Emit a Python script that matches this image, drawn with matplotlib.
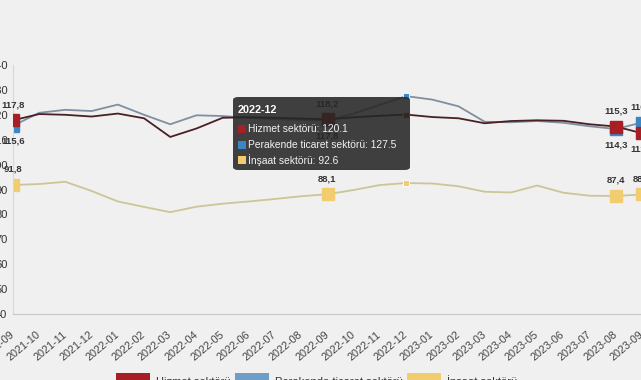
import matplotlib.pyplot as plt
from matplotlib.patches import FancyBboxPatch, Rectangle, Patch

# data
months = ["2021-09", "2021-10", "2021-11", "2021-12", "2022-01", "2022-02", "2022-03",
          "2022-04", "2022-05", "2022-06", "2022-07", "2022-08", "2022-09", "2022-10",
          "2022-11", "2022-12", "2023-01", "2023-02", "2023-03", "2023-04", "2023-05",
          "2023-06", "2023-07", "2023-08", "2023-09"]
hizmet = [117.8, 120.3, 120.0, 119.3, 120.5, 118.6, 111.1, 114.5, 118.8, 119.0, 118.8,
          118.5, 118.2, 119.0, 119.6, 120.1, 119.1, 118.6, 116.6, 117.5, 117.8, 117.6,
          116.2, 115.3, 112.6]
perakende = [115.6, 120.8, 122.0, 121.5, 124.1, 120.0, 116.2, 119.8, 119.5, 118.8, 118.3,
             118.0, 117.8, 120.5, 124.0, 127.5, 126.1, 123.4, 117.2, 117.0, 117.5, 116.8,
             115.4, 114.3, 116.9]
insaat = [91.8, 92.2, 93.1, 89.4, 85.2, 83.0, 80.9, 83.1, 84.3, 85.2, 86.2, 87.3, 88.1,
          89.8, 91.8, 92.6, 92.4, 91.3, 89.1, 88.8, 91.6, 88.7, 87.5, 87.4, 88.0]
series_names = ["Hizmet sektörü", "Perakende ticaret sektörü", "İnşaat sektörü"]
labeled = [0, 12, 23, 24]
hover = 15

RED = "#a81e25"
BLUE = "#3d86c6"
YELLOW = "#f1cd70"
BG = "#f0f0f0"

plt.rcParams['font.family'] = ['Liberation Sans', 'DejaVu Sans']


def fmt(v):
    return f"{v:.1f}".replace(".", ",")


fig = plt.figure(figsize=(6.41, 3.80), dpi=100)
fig.patch.set_facecolor(BG)
W, H = 641, 380
ax = fig.add_axes([13 / W, 1 - 314 / H, 629 / W, 249 / H])
ax.set_facecolor(BG)

x = list(range(len(months)))
ax.plot(x, perakende, color="#7f8fa0", lw=1.3, zorder=2,
        marker="s", markevery=labeled, ms=9, mfc=BLUE, mec=BLUE)
ax.plot(x, hizmet, color="#4a2024", lw=1.3, zorder=3,
        marker="s", markevery=labeled, ms=9, mfc=RED, mec=RED)
ax.plot(x, insaat, color="#cbc598", lw=1.3, zorder=2,
        marker="s", markevery=labeled, ms=9, mfc=YELLOW, mec=YELLOW)

# hovered month: small markers
for vals, c in [(perakende, BLUE), (hizmet, RED), (insaat, YELLOW)]:
    ax.plot([hover], [vals[hover]], marker="s", ms=5, mfc=c, mec="white", mew=0.6, zorder=4)

# value labels
lab_kw = dict(textcoords="offset points", ha="center", fontsize=6.8,
              color="#333333", fontweight="bold", zorder=5)
for i in labeled:
    hi, lo = max(hizmet[i], perakende[i]), min(hizmet[i], perakende[i])
    ax.annotate(fmt(hi), (i, hi), xytext=(0, 8), va="bottom", **lab_kw)
    ax.annotate(fmt(lo), (i, lo), xytext=(0, -8), va="top", **lab_kw)
    ax.annotate(fmt(insaat[i]), (i, insaat[i]), xytext=(0, 8), va="bottom", **lab_kw)

ax.set_xlim(0, 24)
ax.set_ylim(40, 140)
ax.set_yticks(range(40, 141, 10))
ax.set_xticks(x)
ax.set_xticklabels(months, rotation=40, ha="right", rotation_mode="anchor", va="center")
ax.tick_params(axis="x", length=0, pad=14, labelsize=7.8, labelcolor="#444444")
ax.tick_params(axis="y", length=0, pad=4, labelsize=8, labelcolor="#333333")
for s in ["top", "right"]:
    ax.spines[s].set_visible(False)
ax.spines["left"].set_color("#d8d8d8")
ax.spines["bottom"].set_color("#c8c8c8")

# tooltip for the hovered month
tip = FancyBboxPatch((233 / W, 1 - 170 / H), 177 / W, 73 / H,
                     boxstyle="round,pad=0,rounding_size=0.008",
                     transform=fig.transFigure, fc="#262626", ec="none",
                     alpha=0.88, zorder=10)
fig.add_artist(tip)
fig.text(238 / W, 1 - 110 / H, months[hover], color="white", fontweight="bold",
         fontsize=7.8, va="center", zorder=11)
rows = [(series_names[0], hizmet[hover], RED, 129),
        (series_names[1], perakende[hover], BLUE, 145),
        (series_names[2], insaat[hover], YELLOW, 160)]
for name, val, c, ypx in rows:
    fig.add_artist(Rectangle((238 / W, 1 - (ypx + 4) / H), 8 / W, 8 / H,
                             transform=fig.transFigure, fc=c, ec="none", zorder=11))
    fig.text(248 / W, 1 - ypx / H, f"{name}: {val}", color="#f2f2f2",
             fontsize=7.4, va="center", zorder=11)

# legend, mostly cut off at the bottom
handles = [Patch(fc=RED, ec="none"), Patch(fc="#6e9ec8", ec="none"), Patch(fc=YELLOW, ec="none")]
fig.legend(handles, series_names, loc="upper left", bbox_to_anchor=(110 / W, 1 - 367 / H),
           ncol=3, frameon=False, fontsize=8, handlelength=3.1, handleheight=2.2,
           handletextpad=0.5, columnspacing=0.4, borderpad=0, labelcolor="#333333")

fig.savefig("out.png", dpi=100, facecolor=BG)
